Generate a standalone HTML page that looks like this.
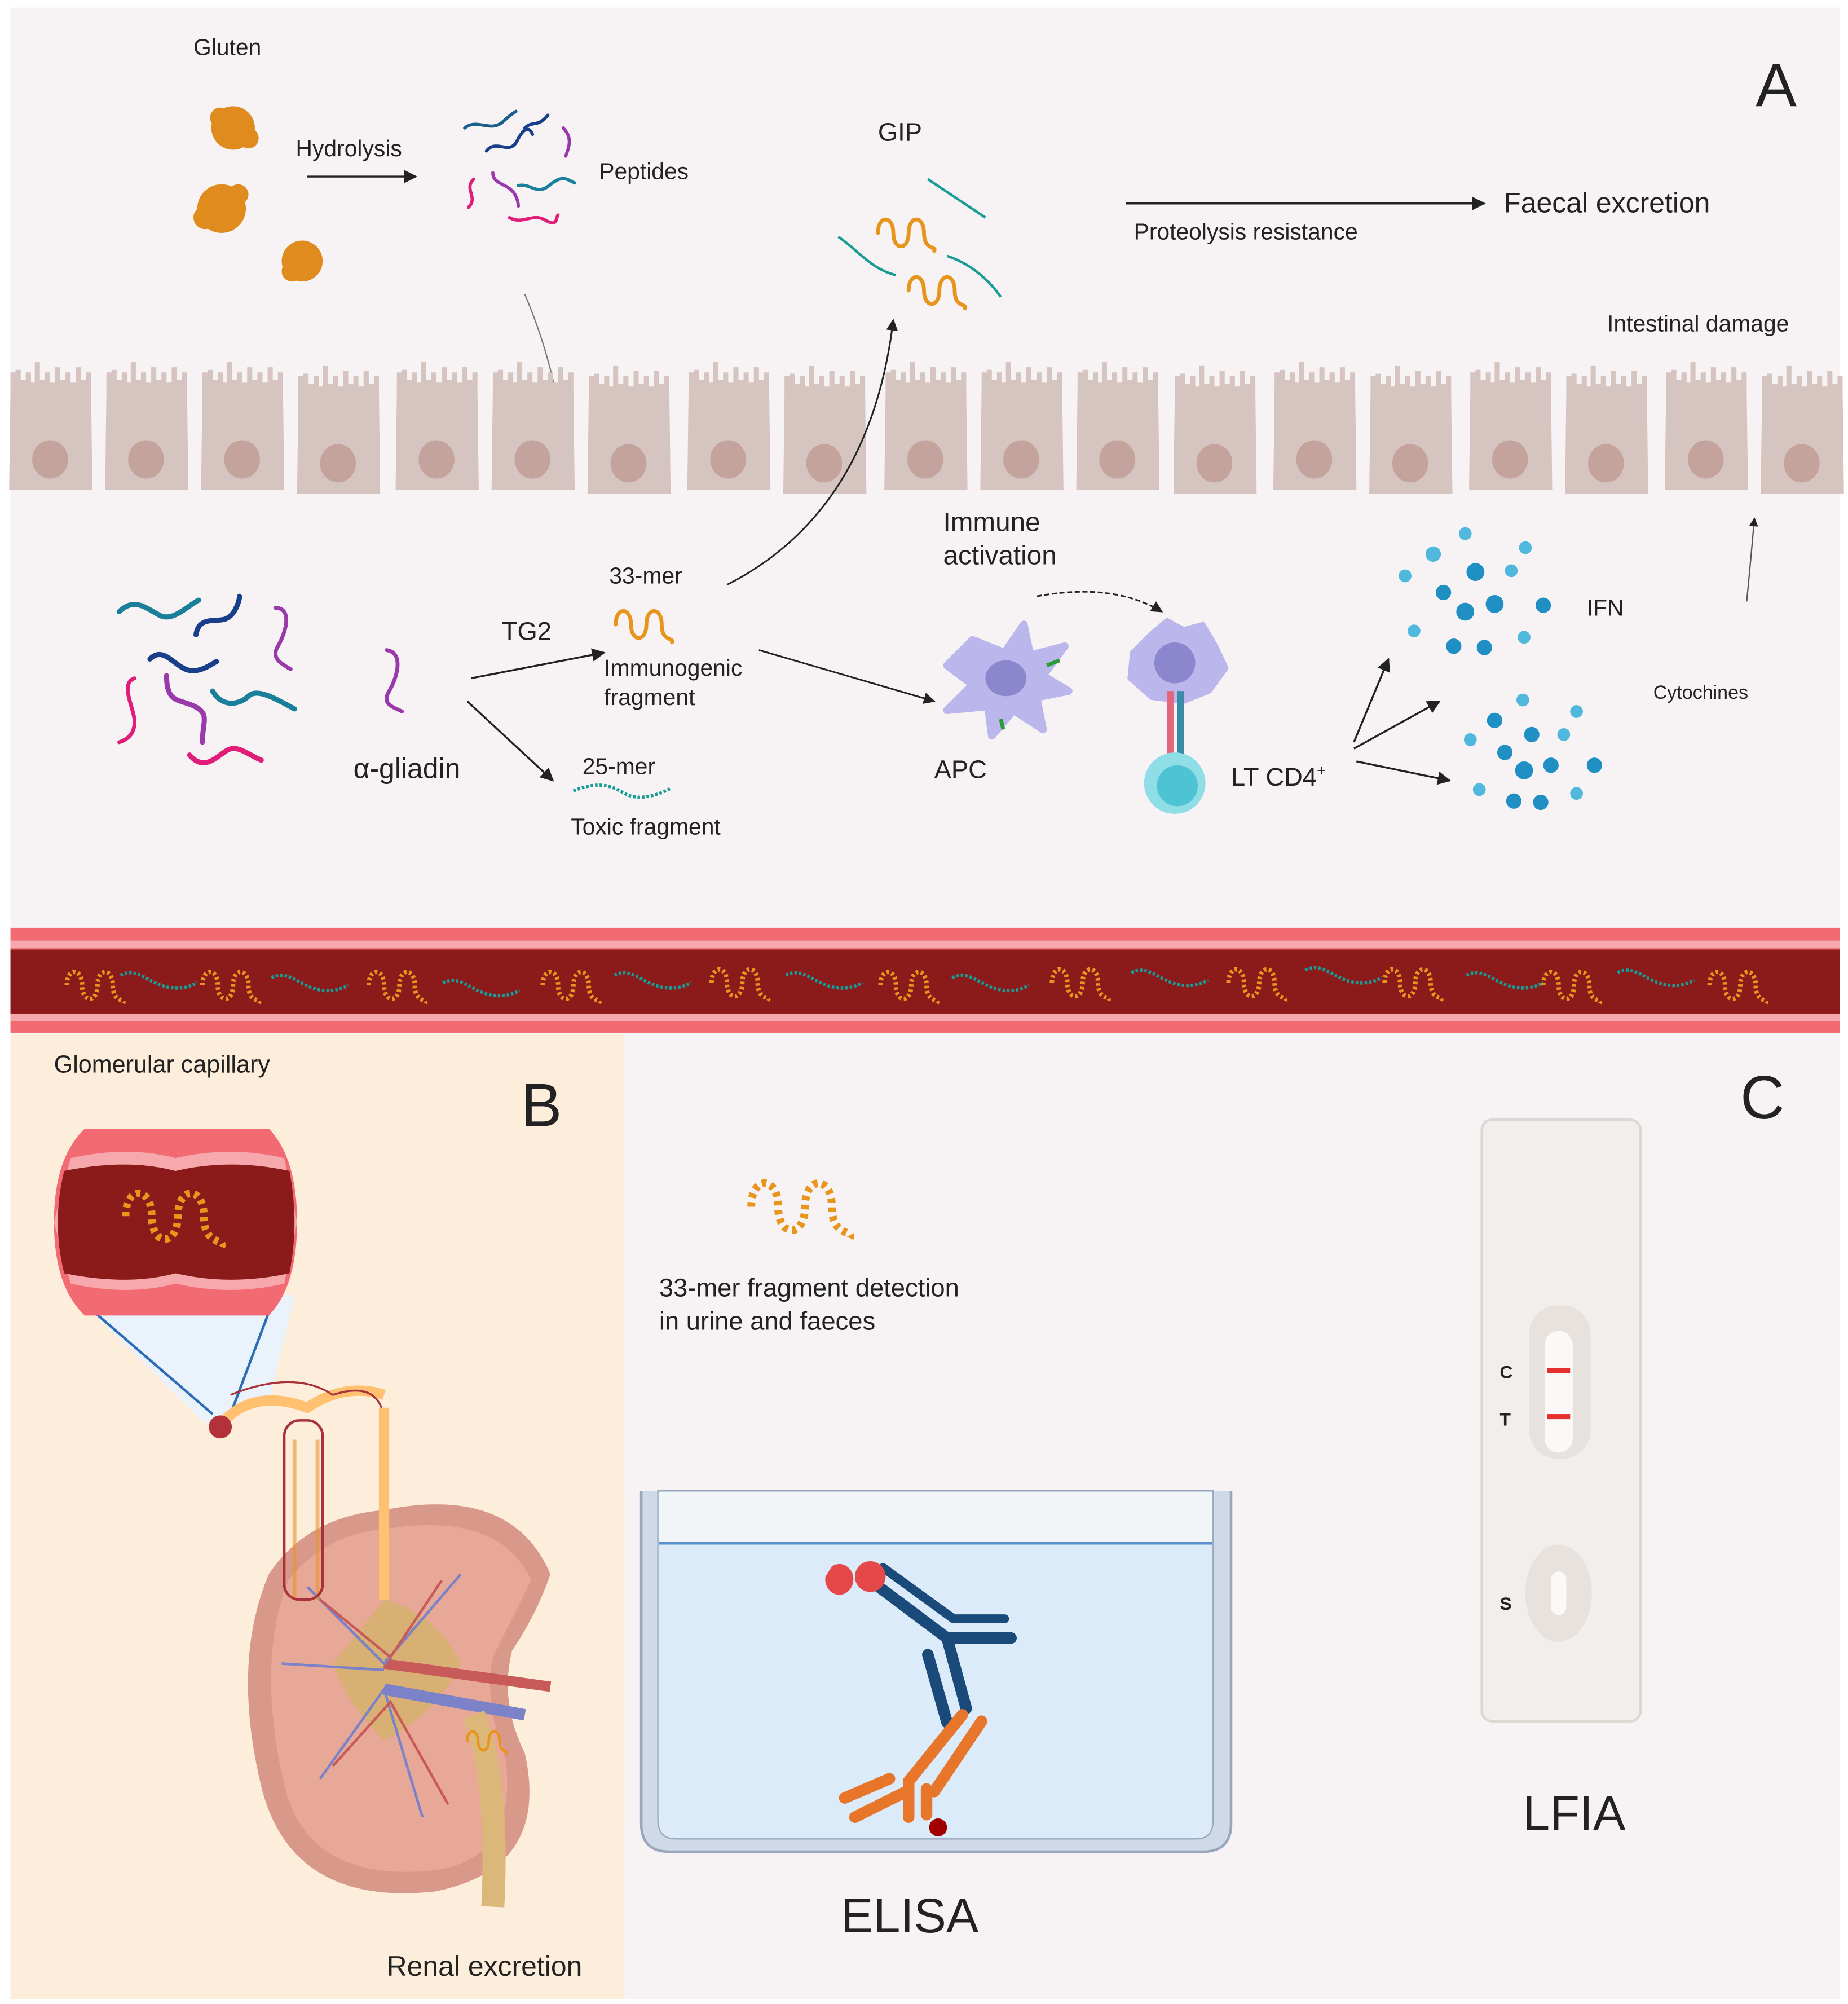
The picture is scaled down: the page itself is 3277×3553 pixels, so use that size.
<!DOCTYPE html>
<html><head><meta charset="utf-8"><style>
html,body{margin:0;padding:0;background:#fff;}
svg{display:block;}
text{font-family:"Liberation Sans",Arial,sans-serif;fill:#222;}
</style></head><body>
<svg width="3277" height="3553" viewBox="0 0 1444 1566" xmlns="http://www.w3.org/2000/svg">
<defs>
<marker id="ar" viewBox="0 0 10 10" refX="9" refY="5" markerWidth="7" markerHeight="7" orient="auto"><path d="M0,0 L10,5 L0,10 z" fill="#222"/></marker>
<g id="cell">
<path d="M2,22 L2,8 L6,8 L6,6 L10,6 L10,14 L14,14 L14,8 L18,8 L18,16 L21,16 L21,0 L25,0 L25,14 L29,14 L29,8 L33,8 L33,16 L37,16 L37,4 L41,4 L41,14 L45,14 L45,8 L49,8 L49,16 L53,16 L53,4 L57,4 L57,14 L61,14 L61,8 L65,8 L65,22 L66,100 L1,100 Z" fill="#d5c4bf"/>
<ellipse cx="33" cy="76" rx="14" ry="15" fill="#c3a39c"/>
</g>
<path id="worm" d="M0,12 c0,-14 12,-14 12,0 s12,14 12,0 s12,-14 12,0 s10,10 8,14" fill="none" stroke="#e8951e" stroke-width="3" stroke-linecap="round"/>
<path id="wormd" d="M0,12 c0,-14 12,-14 12,0 s12,14 12,0 s12,-14 12,0 s10,10 8,14" fill="none" stroke="#e8951e" stroke-width="3.5" stroke-dasharray="2 2"/>
<path id="teal" d="M0,0 c12,-6 20,4 32,8 s20,2 28,-2" fill="none" stroke="#1a9c96" stroke-width="2.5" stroke-dasharray="2 1.5"/>
</defs>

<rect width="1444" height="1566" fill="#fff"/>
<rect x="8" y="6" width="1430" height="1556" fill="#f7f3f4"/>

<text x="151" y="43" font-size="18">Gluten</text>
<g fill="#df8b1e">
<circle cx="182" cy="100" r="17"/><circle cx="173" cy="163" r="19"/><circle cx="236" cy="204" r="16"/>
<circle cx="172" cy="92" r="8"/><circle cx="194" cy="108" r="8"/><circle cx="160" cy="170" r="9"/><circle cx="186" cy="152" r="8"/><circle cx="228" cy="212" r="8"/>
</g>
<text x="231" y="122" font-size="18">Hydrolysis</text>
<line x1="240" y1="138" x2="325" y2="138" stroke="#222" stroke-width="1.5" marker-end="url(#ar)"/>
<g fill="none" stroke-width="2.5" stroke-linecap="round">
<path d="M363,100 c10,-8 20,4 30,-5 s8,-6 10,-8" stroke="#1a5f8a"/>
<path d="M380,118 c8,-10 18,4 24,-8 s10,-10 12,-5" stroke="#1a3f8a"/>
<path d="M410,100 c6,-6 10,0 18,-10" stroke="#1a3f8a"/>
<path d="M440,100 c8,8 4,16 2,22" stroke="#9a3aaa"/>
<path d="M370,140 c-8,8 4,14 -4,22" stroke="#e01e7a"/>
<path d="M385,135 c0,12 18,6 20,26" stroke="#9a3aaa"/>
<path d="M405,145 c10,-2 14,8 24,0 s12,-6 20,-2" stroke="#1a7f9a"/>
<path d="M398,170 c10,6 18,-4 28,2 s8,-2 10,-4" stroke="#e01e7a"/>
</g>
<text x="468" y="140" font-size="18">Peptides</text>
<path d="M410,230 Q440,300 443,380" fill="none" stroke="#777" stroke-width="1"/>

<text x="686" y="110" font-size="20">GIP</text>
<use href="#worm" x="686" y="170"/>
<use href="#worm" x="710" y="215"/>
<path d="M725,140 c15,10 30,20 45,30" fill="none" stroke="#1a9c96" stroke-width="2"/>
<path d="M655,185 c15,10 25,25 45,30" fill="none" stroke="#1a9c96" stroke-width="2"/>
<path d="M740,200 c15,5 30,15 42,32" fill="none" stroke="#1a9c96" stroke-width="2"/>
<line x1="880" y1="159" x2="1160" y2="159" stroke="#222" stroke-width="1.5" marker-end="url(#ar)"/>
<text x="886" y="187" font-size="18">Proteolysis resistance</text>
<text x="1175" y="166" font-size="22">Faecal excretion</text>
<text x="1372" y="83" font-size="48">A</text>
<text x="1256" y="259" font-size="18">Intestinal damage</text>

<g>
<use href="#cell" x="6" y="283"/><use href="#cell" x="81" y="283"/><use href="#cell" x="156" y="283"/><use href="#cell" x="231" y="286"/>
<use href="#cell" x="308" y="283"/><use href="#cell" x="383" y="283"/><use href="#cell" x="458" y="286"/><use href="#cell" x="536" y="283"/>
<use href="#cell" x="611" y="286"/><use href="#cell" x="690" y="283"/><use href="#cell" x="765" y="283"/><use href="#cell" x="840" y="283"/>
<use href="#cell" x="916" y="286"/><use href="#cell" x="994" y="283"/><use href="#cell" x="1069" y="286"/><use href="#cell" x="1147" y="283"/>
<use href="#cell" x="1222" y="286"/><use href="#cell" x="1300" y="283"/><use href="#cell" x="1375" y="286"/>
</g>

<g fill="none" stroke-width="4" stroke-linecap="round">
<path d="M93,478 c12,-12 22,-2 32,3 s22,-8 30,-12" stroke="#1a7f9a"/>
<path d="M153,496 c2,-14 14,-10 22,-12 s12,-14 12,-18" stroke="#1a3f8a"/>
<path d="M117,515 c10,-10 18,4 28,8 s20,-4 24,-6" stroke="#1a3f8a"/>
<path d="M215,475 c14,0 8,20 2,30 s4,14 10,18" stroke="#9a3aaa" stroke-width="3"/>
<path d="M105,530 c-12,4 0,24 0,34 s-6,14 -12,16" stroke="#e01e7a" stroke-width="3"/>
<path d="M130,528 c0,22 10,18 22,24 s6,12 6,28" stroke="#9a3aaa"/>
<path d="M166,540 c8,14 22,10 28,4 s18,0 36,10" stroke="#1a7f9a"/>
<path d="M148,590 c12,14 22,0 30,-4 s16,4 26,8" stroke="#e01e7a"/>
<path d="M302,508 c14,2 8,22 2,32 s2,12 10,16" stroke="#9a3aaa" stroke-width="3"/>
</g>
<text x="276" y="608" font-size="22">α-gliadin</text>
<text x="392" y="500" font-size="20">TG2</text>
<line x1="368" y1="530" x2="472" y2="510" stroke="#222" stroke-width="1.5" marker-end="url(#ar)"/>
<line x1="365" y1="548" x2="432" y2="610" stroke="#222" stroke-width="1.5" marker-end="url(#ar)"/>
<text x="476" y="456" font-size="18">33-mer</text>
<use href="#worm" x="481" y="476"/>
<text x="472" y="528" font-size="18">Immunogenic</text>
<text x="472" y="551" font-size="18">fragment</text>
<text x="455" y="605" font-size="18">25-mer</text>
<path d="M448,618 c20,-8 30,-4 40,2 s25,2 36,-4" fill="none" stroke="#1a9c96" stroke-width="2.5" stroke-dasharray="2 1.5"/>
<text x="446" y="652" font-size="18">Toxic fragment</text>
<path d="M568,457 Q680,400 698,250" fill="none" stroke="#222" stroke-width="1.3" marker-end="url(#ar)"/>
<line x1="593" y1="508" x2="730" y2="548" stroke="#222" stroke-width="1.3" marker-end="url(#ar)"/>
<text x="737" y="415" font-size="21">Immune</text>
<text x="737" y="441" font-size="21">activation</text>
<path d="M810,466 Q870,455 908,478" fill="none" stroke="#222" stroke-width="1.3" stroke-dasharray="4 2" marker-end="url(#ar)"/>
<g>
<path d="M760,500 L785,510 L800,488 L805,512 L832,505 L815,528 L835,540 L810,545 L815,570 L792,555 L775,575 L772,552 L740,555 L760,535 L740,520 Z" fill="#bbb7ec" stroke="#bbb7ec" stroke-width="6" stroke-linejoin="round"/>
<ellipse cx="786" cy="530" rx="16" ry="14" fill="#8c86cc"/>
<path d="M818,520 l10,-4" stroke="#2a9a3a" stroke-width="3"/>
<path d="M782,562 l2,8" stroke="#2a9a3a" stroke-width="3"/>
</g>
<text x="730" y="608" font-size="20">APC</text>
<g>
<path d="M900,495 L912,485 L925,492 L940,488 L950,505 L958,522 L945,540 L925,548 L900,545 L883,530 L885,510 Z" fill="#bbb7ec" stroke="#bbb7ec" stroke-width="4" stroke-linejoin="round"/>
<circle cx="918" cy="518" r="16" fill="#8c86cc"/>
<rect x="912" y="540" width="5" height="50" fill="#e2677a"/><rect x="920" y="540" width="5" height="50" fill="#3a8aa8"/>
<circle cx="918" cy="612" r="24" fill="#8fdde6"/>
<circle cx="920" cy="614" r="16" fill="#4ec3d4"/>
</g>
<text x="962" y="614" font-size="20">LT CD4<tspan font-size="12" dy="-8">+</tspan></text>
<line x1="1058" y1="580" x2="1085" y2="515" stroke="#222" stroke-width="1.5" marker-end="url(#ar)"/>
<line x1="1058" y1="585" x2="1125" y2="548" stroke="#222" stroke-width="1.5" marker-end="url(#ar)"/>
<line x1="1060" y1="595" x2="1133" y2="610" stroke="#222" stroke-width="1.5" marker-end="url(#ar)"/>
<g fill="#4fb8dc">
<circle cx="1145" cy="417" r="5"/><circle cx="1120" cy="433" r="6"/><circle cx="1192" cy="428" r="5"/><circle cx="1098" cy="450" r="5"/><circle cx="1153" cy="447" r="7" fill="#1f8fc4"/><circle cx="1181" cy="446" r="5"/>
<circle cx="1128" cy="463" r="6" fill="#1f8fc4"/><circle cx="1168" cy="472" r="7" fill="#1f8fc4"/><circle cx="1206" cy="473" r="6" fill="#1f8fc4"/><circle cx="1145" cy="478" r="7" fill="#1f8fc4"/><circle cx="1105" cy="493" r="5"/><circle cx="1136" cy="505" r="6" fill="#1f8fc4"/><circle cx="1160" cy="506" r="6" fill="#1f8fc4"/><circle cx="1191" cy="498" r="5"/>
<circle cx="1190" cy="547" r="5"/><circle cx="1232" cy="556" r="5"/><circle cx="1168" cy="563" r="6" fill="#1f8fc4"/><circle cx="1197" cy="574" r="6" fill="#1f8fc4"/><circle cx="1222" cy="574" r="5"/><circle cx="1149" cy="578" r="5"/>
<circle cx="1176" cy="588" r="6" fill="#1f8fc4"/><circle cx="1191" cy="602" r="7" fill="#1f8fc4"/><circle cx="1212" cy="598" r="6" fill="#1f8fc4"/><circle cx="1246" cy="598" r="6" fill="#1f8fc4"/><circle cx="1156" cy="617" r="5"/><circle cx="1183" cy="626" r="6" fill="#1f8fc4"/><circle cx="1204" cy="627" r="6" fill="#1f8fc4"/><circle cx="1232" cy="620" r="5"/>
</g>
<text x="1240" y="481" font-size="18">IFN</text>
<text x="1292" y="546" font-size="15">Cytochines</text>
<path d="M1365,470 Q1368,440 1371,405" fill="none" stroke="#555" stroke-width="1" marker-end="url(#ar)"/>

<rect x="8" y="725" width="1430" height="82" fill="#f26b73"/>
<rect x="8" y="735" width="1430" height="6" fill="#f7a8ac"/>
<rect x="8" y="792" width="1430" height="6" fill="#f7a8ac"/>
<rect x="8" y="742" width="1430" height="50" fill="#8b1a1a"/>
<g>
<use href="#wormd" x="52" y="758"/><use href="#teal" x="94" y="762"/><use href="#wormd" x="158" y="758"/><use href="#teal" x="212" y="764"/>
<use href="#wormd" x="288" y="758"/><use href="#teal" x="346" y="768"/><use href="#wormd" x="424" y="758"/><use href="#teal" x="480" y="762"/>
<use href="#wormd" x="556" y="756"/><use href="#teal" x="614" y="762"/><use href="#wormd" x="688" y="758"/><use href="#teal" x="744" y="764"/>
<use href="#wormd" x="822" y="756"/><use href="#teal" x="884" y="760"/><use href="#wormd" x="960" y="756"/><use href="#teal" x="1020" y="758"/>
<use href="#wormd" x="1082" y="756"/><use href="#teal" x="1146" y="762"/><use href="#wormd" x="1206" y="758"/><use href="#teal" x="1264" y="760"/><use href="#wormd" x="1336" y="758"/>
</g>

<rect x="8" y="808" width="480" height="754" fill="#fdeedb"/>
<text x="42" y="838" font-size="19">Glomerular capillary</text>
<text x="407" y="880" font-size="48">B</text>
<path d="M58,1012 L230,1012 L210,1095 L178,1108 L178,1113 L160,1112 Z" fill="#eaf3fc"/>
<line x1="58" y1="1012" x2="166" y2="1105" stroke="#2e6db4" stroke-width="2"/>
<line x1="215" y1="1012" x2="180" y2="1105" stroke="#2e6db4" stroke-width="2"/>
<path d="M66,882 L210,882 Q232,905 232,955 Q232,1005 210,1028 L66,1028 Q42,1005 42,955 Q42,905 66,882 Z" fill="#f26b73"/>
<path d="M55,905 Q100,895 137,905 Q180,895 222,905 L232,955 L222,1003 Q180,1013 137,1003 Q100,1013 55,1003 L42,955 Z" fill="#f7a8ac"/>
<path d="M50,915 Q100,905 137,915 Q180,905 226,915 Q234,955 226,995 Q180,1005 137,995 Q100,1005 50,995 Q40,955 50,915 Z" fill="#8b1a1a"/>
<use href="#wormd" transform="translate(98,930) scale(1.7)"/>
<path d="M300,1180 Q400,1160 430,1230 Q420,1260 400,1290 Q390,1330 410,1370 Q430,1460 340,1478 Q230,1490 205,1400 Q180,1300 210,1230 Q240,1185 300,1180 Z" fill="#d8998a"/>
<path d="M300,1195 Q390,1180 415,1235 Q400,1265 385,1295 Q378,1330 395,1375 Q405,1455 335,1462 Q240,1470 222,1395 Q200,1300 225,1235 Q255,1198 300,1195 Z" fill="#e8a898"/>
<path d="M300,1250 Q340,1260 360,1300 Q340,1340 300,1360 Q270,1330 260,1300 Z" fill="#d4b26a" opacity="0.8"/>
<g fill="none" stroke-width="3">
<path d="M300,1300 L430,1318" stroke="#c85a5a" stroke-width="8"/>
<path d="M300,1320 L410,1340" stroke="#7c82c8" stroke-width="9"/>
<path d="M240,1240 L300,1300 L360,1230 M250,1390 L300,1320 L330,1420 M220,1300 L300,1305" stroke="#7c82c8" stroke-width="2"/>
<path d="M250,1250 L305,1295 L345,1235 M260,1380 L305,1330 L350,1410" stroke="#c85a5a" stroke-width="2"/>
</g>
<path d="M370,1340 Q390,1390 385,1490" fill="none" stroke="#dbb77a" stroke-width="18"/>
<use href="#worm" transform="translate(365,1352) scale(0.7)"/>
<path d="M230,1125 L230,1250 M248,1125 L248,1250" stroke="#e8952e" stroke-width="3" opacity="0.6"/>
<rect x="222" y="1110" width="30" height="140" rx="12" fill="none" stroke="#a8323a" stroke-width="2"/>
<path d="M300,1100 L300,1250" stroke="#ffc070" stroke-width="8" fill="none"/>
<path d="M175,1110 Q200,1085 240,1100 Q270,1080 300,1090" stroke="#ffc070" stroke-width="8" fill="none"/>
<path d="M180,1090 Q230,1070 260,1090 Q290,1080 298,1100" stroke="#a8323a" stroke-width="1.5" fill="none"/>
<circle cx="172" cy="1115" r="9" fill="#b3323a"/>
<text x="302" y="1544" font-size="22">Renal excretion</text>

<use href="#wormd" transform="translate(587,922) scale(1.75)"/>
<text x="515" y="1013" font-size="20">33-mer fragment detection</text>
<text x="515" y="1039" font-size="20">in urine and faeces</text>
<text x="1360" y="874" font-size="48">C</text>
<path d="M501,1165 L501,1425 Q501,1447 523,1447 L940,1447 Q962,1447 962,1425 L962,1165" fill="#d0d9e8" stroke="#9aa6bc" stroke-width="2"/>
<path d="M514,1165 L514,1422 Q514,1437 528,1437 L935,1437 Q948,1437 948,1422 L948,1165 Z" fill="#dcebf9" stroke="#9aa6bc" stroke-width="1"/>
<rect x="515" y="1166" width="432" height="40" fill="#f2f5f8"/>
<line x1="515" y1="1206" x2="947" y2="1206" stroke="#5b8fd0" stroke-width="2"/>
<g fill="none" stroke-linecap="round" stroke-width="9">
<path d="M680,1235 L740,1280 L790,1280" stroke="#1a4a7a"/>
<path d="M690,1225 L745,1265 L785,1265" stroke="#1a4a7a" stroke-width="7"/>
<path d="M740,1280 L755,1335" stroke="#1a4a7a"/>
<path d="M725,1293 L740,1346" stroke="#1a4a7a"/>
<path d="M752,1340 L710,1392 L710,1420" stroke="#e8762a"/>
<path d="M767,1345 L730,1400" stroke="#e8762a"/>
<path d="M708,1400 L668,1420 M695,1390 L660,1405" stroke="#e8762a"/>
<path d="M724,1398 L724,1418" stroke="#e8762a"/>
</g>
<circle cx="680" cy="1232" r="12" fill="#e44848"/>
<path d="M645,1232 a11,12 0 1 0 5,-8" fill="#e44848"/>
<circle cx="733" cy="1428" r="7" fill="#a00000"/>
<text x="657" y="1510" font-size="38">ELISA</text>
<rect x="1158" y="875" width="124" height="470" rx="8" fill="#f2eeeb" stroke="#ddd6d2" stroke-width="2"/>
<rect x="1195" y="1020" width="48" height="120" rx="22" fill="#e8e2de"/>
<rect x="1207" y="1040" width="22" height="95" rx="11" fill="#fbf9f8"/>
<rect x="1209" y="1069" width="18" height="4" fill="#e53030"/>
<rect x="1209" y="1105" width="18" height="4" fill="#e53030"/>
<text x="1172" y="1077" font-size="14" font-weight="bold">C</text>
<text x="1172" y="1114" font-size="14" font-weight="bold">T</text>
<ellipse cx="1218" cy="1245" rx="26" ry="38" fill="#e8e2de"/>
<rect x="1212" y="1228" width="12" height="34" rx="6" fill="#fbf9f8"/>
<text x="1172" y="1258" font-size="14" font-weight="bold">S</text>
<text x="1190" y="1430" font-size="38">LFIA</text>
</svg>
</body></html>
